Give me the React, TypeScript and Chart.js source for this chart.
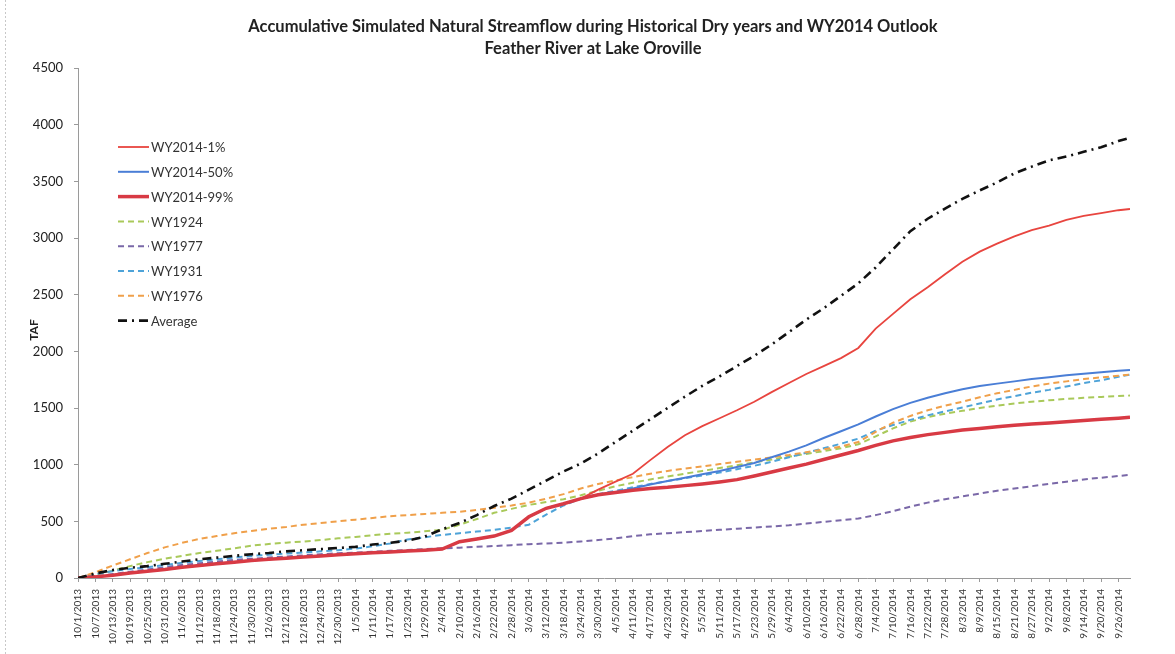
import React, { useEffect, useRef } from "react";
import { Chart, registerables } from "chart.js";
Chart.register(...registerables);

const titleLines = [
  "Accumulative Simulated Natural Streamflow during Historical Dry years and WY2014 Outlook",
  "Feather River at Lake Oroville",
];
const yAxisTitle = "TAF";

const sampleDates = [
  "10/1/2013", "10/7/2013", "10/13/2013", "10/19/2013", "10/25/2013", "10/31/2013",
  "11/6/2013", "11/12/2013", "11/18/2013", "11/24/2013", "11/30/2013", "12/6/2013",
  "12/12/2013", "12/18/2013", "12/24/2013", "12/30/2013", "1/5/2014", "1/11/2014",
  "1/17/2014", "1/23/2014", "1/29/2014", "2/4/2014", "2/10/2014", "2/16/2014",
  "2/22/2014", "2/28/2014", "3/6/2014", "3/12/2014", "3/18/2014", "3/24/2014",
  "3/30/2014", "4/5/2014", "4/11/2014", "4/17/2014", "4/23/2014", "4/29/2014",
  "5/5/2014", "5/11/2014", "5/17/2014", "5/23/2014", "5/29/2014", "6/4/2014",
  "6/10/2014", "6/16/2014", "6/22/2014", "6/28/2014", "7/4/2014", "7/10/2014",
  "7/16/2014", "7/22/2014", "7/28/2014", "8/3/2014", "8/9/2014", "8/15/2014",
  "8/21/2014", "8/27/2014", "9/2/2014", "9/8/2014", "9/14/2014", "9/20/2014",
  "9/26/2014", "9/30/2014",
];
const tickDates = sampleDates.slice(0, 61);

const seriesNames = ["WY2014-1%", "WY2014-50%", "WY2014-99%", "WY1924", "WY1977", "WY1931", "WY1976", "Average"];

const wy2014_1 = [
  0, 10, 25, 45, 60, 75, 95, 110, 125, 140, 155, 165, 175, 185, 195, 205, 215, 222, 230, 238,
  245, 255, 320, 345, 370, 420, 540, 615, 655, 700, 780, 850, 920, 1040, 1156, 1260, 1340, 1410,
  1480, 1555, 1640, 1720, 1800, 1870, 1940, 2030, 2200, 2330, 2460, 2565, 2680, 2790, 2880, 2950,
  3015, 3070, 3110, 3160, 3195, 3220, 3245, 3256,
];
const wy2014_50 = [
  0, 10, 25, 45, 60, 75, 95, 110, 125, 140, 155, 165, 175, 185, 195, 205, 215, 222, 230, 238,
  245, 255, 320, 345, 370, 420, 540, 615, 655, 700, 735, 760, 790, 825, 855, 885, 915, 945,
  980, 1015, 1065, 1115, 1170, 1235, 1295, 1355, 1425, 1490, 1545, 1590, 1630, 1665, 1695, 1715,
  1735, 1755, 1772, 1788, 1802, 1815, 1828, 1835,
];
const wy2014_99 = [
  0, 10, 25, 45, 60, 75, 95, 110, 125, 140, 155, 165, 175, 185, 195, 205, 215, 222, 230, 238,
  245, 255, 320, 345, 370, 420, 540, 615, 655, 700, 735, 755, 775, 790, 800, 815, 830, 848,
  868, 900, 935, 970, 1005, 1045, 1085, 1125, 1170, 1210, 1240, 1265, 1285, 1305, 1320, 1335,
  1347, 1358, 1368, 1378, 1390, 1400, 1410, 1418,
];
const wy1924 = [
  0, 25, 65, 105, 140, 170, 195, 220, 240, 262, 285, 300, 312, 322, 335, 350, 362, 378, 390, 400,
  412, 425, 470, 520, 575, 610, 645, 670, 695, 730, 770, 810, 840, 870, 895, 920, 945, 970,
  995, 1020, 1045, 1070, 1095, 1120, 1145, 1180, 1250, 1320, 1380, 1420, 1450, 1475, 1500, 1520,
  1540, 1555, 1568, 1580, 1590, 1598, 1605, 1610,
];
const wy1977 = [
  0, 15, 35, 55, 75, 95, 115, 130, 145, 160, 170, 180, 190, 200, 210, 218, 225, 232, 240, 248,
  255, 262, 268, 275, 282, 290, 298, 305, 312, 322, 335, 350, 370, 385, 395, 405, 415, 425,
  435, 445, 455, 465, 480, 495, 510, 525, 555, 590, 630, 665, 695, 720, 745, 770,
  790, 810, 830, 850, 870, 885, 900, 910,
];
const wy1931 = [
  0, 35, 60, 80, 95, 115, 135, 150, 165, 180, 195, 205, 215, 225, 235, 245, 260, 280, 305, 340,
  360, 380, 395, 410, 425, 445, 470, 560, 640, 700, 740, 770, 800, 830, 855, 880, 905, 930,
  960, 990, 1025, 1065, 1105, 1145, 1185, 1230, 1300, 1350, 1395, 1435, 1470, 1505, 1540, 1575,
  1605, 1635, 1660, 1690, 1720, 1745, 1775, 1795,
];
const wy1976 = [
  0, 50, 110, 165, 220, 270, 310, 345, 370, 395, 415, 435, 450, 470, 485, 500, 515, 530, 545, 555,
  565, 575, 585, 600, 620, 640, 665, 700, 740, 790, 830, 860, 890, 920, 945, 965, 985, 1005,
  1025, 1045, 1065, 1085, 1110, 1135, 1160, 1200, 1290, 1370, 1430, 1480, 1520, 1555, 1595, 1630,
  1660, 1690, 1715, 1735, 1755, 1770, 1785, 1795,
];
const average = [
  0, 40, 70, 90, 105, 125, 145, 165, 180, 195, 210, 220, 235, 245, 255, 265, 275, 295, 310, 330,
  365, 430, 485, 555, 635, 700, 780, 860, 940, 1010, 1100, 1200, 1300, 1400, 1500, 1600, 1695, 1780,
  1870, 1960, 2060, 2170, 2280, 2380, 2490, 2600, 2740, 2900, 3060, 3170, 3260, 3345, 3420, 3490,
  3570, 3630, 3685, 3720, 3760, 3800, 3855, 3885,
];

const seriesValues = [wy2014_1, wy2014_50, wy2014_99, wy1924, wy1977, wy1931, wy1976, average];
const seriesColors = ["#e8453f", "#4a7ed6", "#d83a44", "#a9c95a", "#7a68a8", "#4ea3d8", "#f0a04a", "#111111"];
const seriesWidths = [1.8, 2, 3.5, 2, 2, 2, 2, 2.6];
const seriesDash: number[][] = [[], [], [], [6, 4], [6, 4], [6, 4], [6, 4], [9, 5, 2, 5]];
const drawOrder = [3, 2, 1, 7, 6, 5, 4, 0];

const START = Date.UTC(2013, 9, 1);
function dayOffset(s: string) {
  const [m, d, y] = s.split("/").map(Number);
  return Math.round((Date.UTC(y, m - 1, d) - START) / 86400000);
}
const xDays = sampleDates.map(dayOffset);

const FONT = "Lato, 'Liberation Sans', sans-serif";

const overlayPlugin = {
  id: "overlay",
  afterDraw(chart: any) {
    const ctx = chart.ctx;
    ctx.save();
    // faint outer frame edge
    ctx.strokeStyle = "#c8c8c8";
    ctx.lineWidth = 1;
    ctx.setLineDash([2, 2]);
    ctx.beginPath();
    ctx.moveTo(5.5, 0);
    ctx.lineTo(5.5, 654);
    ctx.stroke();
    ctx.setLineDash([]);
    // Title
    ctx.fillStyle = "#222";
    ctx.textAlign = "center";
    ctx.textBaseline = "middle";
    ctx.font = `bold 16.5px ${FONT}`;
    ctx.fillText(titleLines[0], 593, 27);
    ctx.fillText(titleLines[1], 593, 49);
    // Y title
    ctx.save();
    ctx.translate(34, 330);
    ctx.rotate(-Math.PI / 2);
    ctx.font = `bold 12px ${FONT}`;
    ctx.fillText(yAxisTitle, 0, 0);
    ctx.restore();
    // Legend
    ctx.textAlign = "left";
    ctx.font = `13px ${FONT}`;
    seriesNames.forEach((name, i) => {
      const y = 147 + i * 24.8;
      ctx.save();
      ctx.strokeStyle = seriesColors[i];
      ctx.lineWidth = seriesWidths[i];
      ctx.setLineDash(seriesDash[i]);
      ctx.beginPath();
      ctx.moveTo(118, y);
      ctx.lineTo(149, y);
      ctx.stroke();
      ctx.restore();
      ctx.fillStyle = "#333";
      ctx.fillText(name, 151, y + 1);
    });
    ctx.restore();
  },
};

export default function App() {
  const ref = useRef<HTMLCanvasElement>(null);
  useEffect(() => {
    if (!ref.current) return;
    const datasets = seriesNames.map((name, i) => ({
      label: name,
      data: xDays.map((x, k) => ({ x, y: seriesValues[i][k] })),
      borderColor: seriesColors[i],
      backgroundColor: seriesColors[i],
      borderWidth: seriesWidths[i],
      borderDash: seriesDash[i],
      pointRadius: 0,
      fill: false,
      tension: 0,
      order: drawOrder[i],
    }));
    const chart = new Chart(ref.current, {
      type: "line",
      data: { datasets },
      plugins: [overlayPlugin],
      options: {
        animation: false,
        responsive: false,
        devicePixelRatio: 1,
        layout: { padding: { top: 68, right: 45, bottom: 0, left: 0 } },
        plugins: { legend: { display: false }, title: { display: false }, tooltip: { enabled: false } },
        scales: {
          x: {
            type: "linear",
            min: 0,
            max: 364,
            offset: false,
            afterFit: (s: any) => { s.height = 76; },
            border: { color: "#9a9a9a", width: 1 },
            grid: { drawOnChartArea: false, drawTicks: true, tickLength: 4, color: "#9a9a9a" },
            ticks: {
              stepSize: 6,
              includeBounds: false,
              autoSkip: false,
              minRotation: 90,
              maxRotation: 90,
              padding: 7,
              color: "#333",
              font: { family: FONT, size: 10 },
              callback: (v: any) => {
                const i = xDays.indexOf(Number(v));
                return i >= 0 && i < tickDates.length ? tickDates[i] : "";
              },
            },
          },
          y: {
            min: 0,
            max: 4500,
            afterFit: (s: any) => { s.width = 78; },
            border: { color: "#9a9a9a", width: 1 },
            grid: { drawOnChartArea: false, drawTicks: true, tickLength: 4, color: "#9a9a9a" },
            ticks: {
              stepSize: 500,
              padding: 11,
              color: "#222",
              font: { family: FONT, size: 13 },
              callback: (v: any) => String(v),
            },
          },
        },
      },
    } as any);
    return () => chart.destroy();
  }, []);
  return (
    <div style={{ position: "fixed", left: 0, top: 0, width: 1175, height: 654, background: "#fff" }}>
      <canvas ref={ref} width={1175} height={654} style={{ width: 1175, height: 654 }} />
    </div>
  );
}
